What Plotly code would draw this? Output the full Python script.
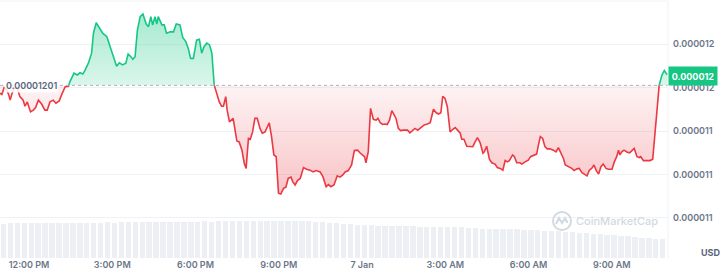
import numpy as np
import pandas as pd
import plotly.graph_objects as go

# ---------------- data ----------------
start_time = "2025-01-06 10:57:20"
window_minutes = 1444

minutes = [0,4,9,14,19,22,25,30,37,43,50,54,59,66,72,77,83,90,97,102,
108,115,121,128,133,141,148,151,160,167,173,179,184,191,198,202,208,215,222,231,
238,244,249,252,258,265,272,277,283,287,292,297,303,309,316,321,326,330,335,339,
342,350,355,360,368,375,381,389,395,402,407,412,418,425,431,436,441,447,453,458,
463,469,474,479,483,488,491,496,499,504,512,517,523,528,532,537,541,546,551,556,
562,567,573,582,587,592,597,602,607,613,618,623,629,633,638,643,649,656,663,670,
677,683,692,698,705,710,715,722,729,735,741,746,753,760,766,773,778,784,788,791,
796,801,807,813,817,822,827,832,837,842,847,852,856,861,866,872,881,886,892,897,
903,910,917,924,930,937,943,948,953,957,962,967,973,979,984,989,995,998,1003,1009,
1015,1022,1027,1032,1038,1044,1047,1052,1058,1063,1070,1075,1081,1087,1092,1097,1101,1108,1112,1117,
1124,1128,1135,1142,1147,1153,1160,1164,1168,1173,1178,1183,1189,1196,1202,1207,1212,1218,1222,1229,
1236,1241,1247,1252,1258,1263,1269,1274,1279,1284,1289,1294,1299,1304,1310,1315,1323,1328,1333,1337,
1340,1344,1349,1355,1361,1366,1371,1377,1382,1385,1391,1398,1405,1411,1416,1421,1425,1431,1436,1440,1443]

# price in units of 1e-7 USD
price_e7 = [119.92,119.89,120.05,120.01,119.88,119.76,119.88,120.03,120.05,119.84,
119.76,119.62,119.72,119.49,119.53,119.59,119.76,119.67,119.53,119.53,
119.72,119.76,119.69,119.74,119.88,120.07,120.08,120.18,120.38,120.34,
120.39,120.36,120.45,120.61,120.84,121.30,121.54,121.41,121.30,121.22,
120.99,120.80,120.64,120.54,120.62,120.57,120.61,120.82,120.76,120.70,
120.76,121.37,121.68,121.74,121.51,121.45,121.68,121.49,121.68,121.51,
121.68,121.49,121.49,121.30,121.33,121.33,121.51,121.49,121.20,121.10,
120.95,120.72,120.72,121.14,121.16,120.84,120.99,121.07,121.03,120.84,
120.11,119.88,119.72,119.62,119.62,119.84,119.53,119.26,119.30,119.34,
118.82,118.80,118.61,118.31,118.19,118.88,118.86,119.03,119.34,119.34,
119.11,119.00,119.03,119.24,118.92,118.50,118.46,117.62,117.60,117.73,
117.76,117.96,117.99,117.88,117.81,117.91,117.96,118.21,118.17,118.15,
118.11,118.14,118.11,118.00,117.77,117.82,117.77,117.81,118.02,117.99,
118.04,118.11,118.14,118.27,118.60,118.61,118.55,118.50,118.46,118.32,
118.57,119.57,119.32,119.30,119.34,119.24,119.20,119.21,119.20,119.30,
119.52,119.42,119.34,119.11,119.06,119.07,119.07,119.01,119.07,119.11,
119.07,119.13,119.19,119.21,119.24,119.55,119.47,119.44,119.47,119.85,
119.80,119.61,119.03,119.09,119.13,119.07,119.00,118.86,118.86,118.70,
118.69,118.69,118.80,118.90,118.78,118.54,118.57,118.70,118.40,118.32,
118.29,118.21,118.19,118.15,118.37,118.34,118.37,118.50,118.46,118.32,
118.32,118.29,118.34,118.38,118.46,118.48,118.52,118.73,118.92,118.88,
118.69,118.64,118.64,118.61,118.57,118.67,118.57,118.42,118.27,118.23,
118.19,118.14,118.18,118.19,118.09,118.06,118.02,118.15,118.19,118.27,
118.14,118.06,118.23,118.29,118.19,118.17,118.17,118.34,118.46,118.61,
118.50,118.57,118.61,118.57,118.55,118.60,118.65,118.46,118.44,118.46,
118.37,118.37,118.37,118.40,119.00,119.61,120.11,120.34,120.44,120.38,
120.34]

base_price = 0.00001201
base_label = "0.00001201"
last_label = "0.000012"

# volume (arbitrary units), one value per 15 minutes
volume_interval_min = 15
volume = [34.5,34.8,34.6,34.9,35.0,34.7,34.8,35.1,35.0,
35.2,35.0,35.3,35.4,35.2,35.5,35.6,35.4,35.7,35.8,
36.0,35.9,36.1,36.3,36.2,36.0,36.4,36.3,36.5,36.4,
36.6,36.5,36.8,36.7,36.9,37.0,
37.1,37.0,37.2,37.1,37.3,37.2,37.0,37.1,36.9,36.8,
36.2,35.8,35.4,35.0,
34.2,33.6,33.2,32.9,32.6,32.3,
32.0,31.9,31.8,31.6,31.7,31.5,31.4,31.3,31.2,31.0,30.9,30.7,30.5,
29.6,29.5,29.3,29.2,29.0,28.8,28.6,28.4,28.1,27.8,
27.5,27.2,26.7,26.2,25.8,25.2,
24.8,24.3,23.8,23.3,22.8,22.2,
21.6,21.0,20.4,19.8,19.2,18.8]

tick_times = ["2025-01-06 12:00","2025-01-06 15:00","2025-01-06 18:00","2025-01-06 21:00",
              "2025-01-07 00:00","2025-01-07 03:00","2025-01-07 06:00","2025-01-07 09:00"]
tick_text = ["12:00 PM","3:00 PM","6:00 PM","9:00 PM","7 Jan","3:00 AM","6:00 AM","9:00 AM"]

ytick_vals = [0.000012105, 0.000012005, 0.000011905, 0.000011805, 0.000011705]
ytick_text = ["0.000012", "0.000012", "0.000011", "0.000011", "0.000011"]

assert len(minutes) == len(price_e7)

# ---------------- processing ----------------
GREEN = "#16c784"
RED = "#ea3943"
GRAY = "#6b7689"

t0 = pd.Timestamp(start_time)
tm = np.array(minutes, dtype=float)
p = np.array(price_e7) * 1e-7

xs, ys = [tm[0]], [p[0]]
for i in range(1, len(p)):
    a, b = p[i - 1] - base_price, p[i] - base_price
    if a * b < 0:
        f = a / (a - b)
        xs.append(tm[i - 1] + f * (tm[i] - tm[i - 1]))
        ys.append(base_price)
    xs.append(tm[i])
    ys.append(p[i])
xs = np.array(xs)
ys = np.array(ys)
times = t0 + pd.to_timedelta(xs, unit="min")

upper = np.maximum(ys, base_price)
lower = np.minimum(ys, base_price)
g_line = np.where(ys >= base_price, ys, np.nan)
r_line = np.where(ys <= base_price, ys, np.nan)
base_arr = np.full_like(ys, base_price)

vol_times = t0 + pd.to_timedelta((np.arange(len(volume)) + 0.5) * volume_interval_min, unit="min")

fig = go.Figure()

fig.add_trace(go.Bar(x=vol_times, y=volume, yaxis="y2",
                     marker=dict(color="#eceff3", line=dict(width=0)),
                     width=volume_interval_min * 60 * 1000 * 0.78, hoverinfo="skip"))

# green fill
fig.add_trace(go.Scatter(x=times, y=base_arr, mode="lines", line=dict(width=0), hoverinfo="skip"))
fig.add_trace(go.Scatter(x=times, y=upper, mode="lines", line=dict(width=0), fill="tonexty",
                         fillgradient=dict(type="vertical",
                                           colorscale=[[0, "rgba(22,199,132,0.16)"], [1, "rgba(22,199,132,0.38)"]],
                                           start=base_price, stop=float(upper.max())),
                         hoverinfo="skip"))
# red fill
fig.add_trace(go.Scatter(x=times, y=base_arr, mode="lines", line=dict(width=0), hoverinfo="skip"))
fig.add_trace(go.Scatter(x=times, y=lower, mode="lines", line=dict(width=0), fill="tonexty",
                         fillgradient=dict(type="vertical",
                                           colorscale=[[0, "rgba(234,57,67,0.30)"], [1, "rgba(234,57,67,0.06)"]],
                                           start=float(lower.min()), stop=base_price),
                         hoverinfo="skip"))

fig.add_trace(go.Scatter(x=times, y=g_line, mode="lines", line=dict(color=GREEN, width=1.6), connectgaps=False))
fig.add_trace(go.Scatter(x=times, y=r_line, mode="lines", line=dict(color=RED, width=1.6), connectgaps=False))

x_end = t0 + pd.Timedelta(minutes=window_minutes)

# baseline dotted line
fig.add_shape(type="line", xref="paper", x0=0, x1=1, yref="y", y0=base_price, y1=base_price,
              line=dict(color="#aab2bf", width=1, dash="dot"), layer="above")
# borders
fig.add_shape(type="line", xref="paper", x0=0, x1=1, yref="paper", y0=1, y1=1,
              line=dict(color="#eff2f5", width=1))
fig.add_shape(type="line", xref="paper", x0=1, x1=1, yref="paper", y0=0, y1=1,
              line=dict(color="#eff2f5", width=1))

font_tick = dict(family="Inter, Arial, sans-serif", size=9, color=GRAY, weight=600)

fig.add_annotation(xref="paper", x=0, xanchor="left", xshift=4, yref="y", y=base_price,
                   text=base_label, showarrow=False, bgcolor="rgba(255,255,255,0.85)",
                   font=dict(family="Inter, Arial, sans-serif", size=9, color="#58667e", weight=600),
                   borderpad=1)
fig.add_annotation(xref="paper", x=1, xanchor="left", yref="y", y=float(p[-1]), yshift=-1,
                   text=last_label, showarrow=False, bgcolor=GREEN, width=42, height=12, borderpad=3,
                   font=dict(family="Inter, Arial, sans-serif", size=9, color="white", weight=700))
fig.add_annotation(xref="paper", x=1, xanchor="left", xshift=31, yref="paper", y=0.02, yanchor="middle",
                   text="USD", showarrow=False,
                   font=dict(family="Inter, Arial, sans-serif", size=9, color="#58667e", weight=700))

# watermark
wm_y = (258 - 221) / 257
fig.add_annotation(xref="paper", x=574 / 668, xanchor="left", yref="paper", y=wm_y,
                   yanchor="middle", text="CoinMarketCap", showarrow=False,
                   font=dict(family="Inter, Arial, sans-serif", size=11, color="#d3d9e2", weight=500))
fig.add_shape(type="circle", xref="paper", yref="paper", xsizemode="pixel", ysizemode="pixel",
              xanchor=562 / 668, yanchor=wm_y, x0=-9, x1=9, y0=-9, y1=9,
              line=dict(color="#d3d9e2", width=2))
fig.add_shape(type="path", xref="paper", yref="paper", xsizemode="pixel", ysizemode="pixel",
              xanchor=562 / 668, yanchor=wm_y,
              path="M -6 -3 L -3 3 L 0 -2 L 3 3 L 5 -1 L 6 -1",
              line=dict(color="#d3d9e2", width=2))

fig.update_layout(
    width=722, height=276,
    margin=dict(l=0, r=54, t=1, b=18),
    plot_bgcolor="white", paper_bgcolor="white",
    showlegend=False,
    bargap=0,
    xaxis=dict(type="date", range=[t0, x_end], tickvals=pd.to_datetime(tick_times), ticktext=tick_text,
               showgrid=False, zeroline=False, showline=False, ticks="", tickfont=font_tick,
               fixedrange=True),
    yaxis=dict(range=[0.000011613, 0.000012204], side="right", tickvals=ytick_vals, ticktext=ytick_text,
               showgrid=True, gridcolor="#eff2f5", gridwidth=1, zeroline=False, showline=False,
               ticks="", tickfont=font_tick, ticklabelstandoff=4),
    yaxis2=dict(overlaying="y", range=[0, 257], visible=False),
)

fig.write_html("out.html")
